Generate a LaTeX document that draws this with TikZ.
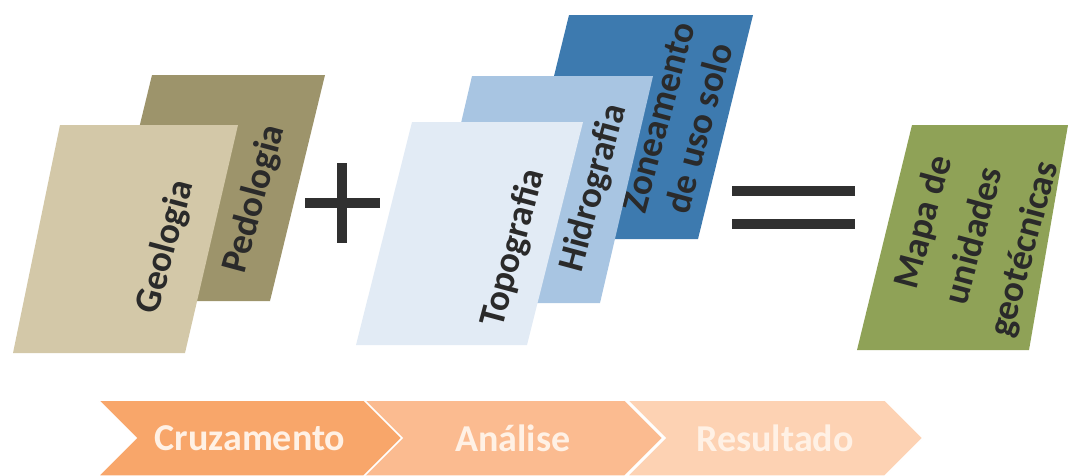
\documentclass[tikz,border=0pt]{standalone}
\usepackage{fontspec}
\setmainfont{Carlito}
\usetikzlibrary{shapes.symbols}

\definecolor{geocol}{HTML}{D3C8A8}
\definecolor{pedocol}{HTML}{9D946B}
\definecolor{topocol}{HTML}{E2EBF5}
\definecolor{hidrocol}{HTML}{A8C5E2}
\definecolor{zonecol}{HTML}{3D7AAF}
\definecolor{mapacol}{HTML}{8FA257}
\definecolor{ink}{HTML}{2A2A2A}
\definecolor{barcol}{HTML}{303030}
\definecolor{stepA}{HTML}{F8A66A}
\definecolor{stepB}{HTML}{FBBB90}
\definecolor{stepC}{HTML}{FDD2B3}
\definecolor{steptext}{HTML}{FFF1E5}

\begin{document}
\begin{tikzpicture} [x=1pt, y=-1pt]
    \tikzstyle{every node} = [align=center]
    \tikzstyle{layer} = [rotate=75, text=ink, font=\bfseries\fontsize{37}{42}\selectfont]
    \tikzstyle{bar} = [draw=barcol, line width=10pt]
    \tikzstyle{stage} = [signal, signal to=east, signal from=west, signal pointer angle=90,
        minimum height=76pt, draw=white, line width=1.5pt, text=steptext,
        font=\bfseries\fontsize{38}{40}\selectfont]
    \useasboundingbox (0,0) rectangle (1070,475);

    % first group
    \fill[pedocol] (152,75) -- (325,75) -- (270,301) -- (97,301) -- cycle;
    \node[layer] (pedologia) at (255,199) {Pedologia};
    \fill[geocol] (60,125) -- (238,125) -- (185,353) -- (13,353) -- cycle;
    \node[layer] (geologia) at (166,247) {Geologia};

    \draw[bar] (305,203) -- (380,203);
    \draw[bar] (342,163) -- (342,243);

    % second group
    \fill[zonecol] (569,15) -- (753,15) -- (698,239) -- (514,239) -- cycle;
    \node[layer] (zoneamento) at (679,123) {Zoneamento\\de uso solo};
    \fill[hidrocol] (472,76) -- (653,76) -- (600,303) -- (419,303) -- cycle;
    \node[layer] (hidrografia) at (594,188) {Hidrografia};
    \fill[topocol] (412,122) -- (583,122) -- (527,345) -- (356,345) -- cycle;
    \node[layer] (topografia) at (514,248) {Topografia};

    \draw[bar] (732,191) -- (855,191);
    \draw[bar] (732,224) -- (855,224);

    % result
    \fill[mapacol] (912,125) -- (1068,125) -- (1029,350) -- (857,350) -- cycle;
    \node[layer, font=\bfseries\fontsize{37}{52}\selectfont] (mapa) at (975,236)
        {Mapa de\\unidades\\geotécnicas};

    % stages
    \node[stage, fill=stepC, minimum width=296pt] (resultado) at (775,438) {Resultado};
    \node[stage, fill=stepB, minimum width=300pt] (analise) at (513,438) {Análise};
    \node[stage, fill=stepA, minimum width=304pt] (cruzamento) at (250,438) {Cruzamento};
\end{tikzpicture}
\end{document}
